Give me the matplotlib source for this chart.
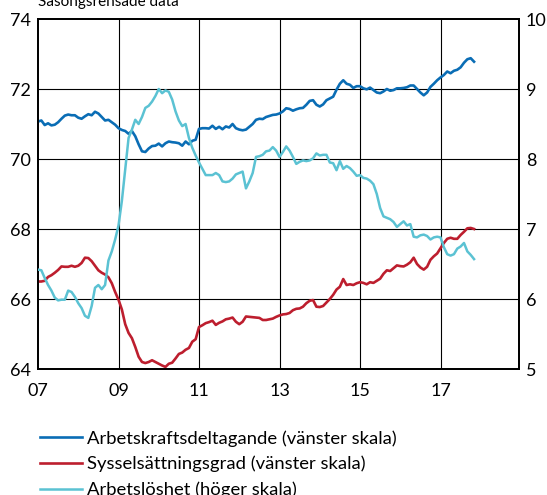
import numpy as np
import matplotlib
matplotlib.use("Agg")
import matplotlib.pyplot as plt

# monthly data, Jan 2007 - Nov 2017
start_year = 2007

arbetskraft = [
    71.07, 71.10, 70.97, 71.02, 70.96, 70.98, 71.05, 71.15, 71.24, 71.27, 71.25, 71.25,
    71.18, 71.15, 71.22, 71.28, 71.25, 71.35, 71.30, 71.20, 71.10, 71.12, 71.05, 70.98,
    70.88, 70.83, 70.80, 70.72, 70.80, 70.65, 70.42, 70.22, 70.20, 70.30, 70.37, 70.38,
    70.44, 70.36, 70.45, 70.50, 70.48, 70.47, 70.45, 70.38, 70.50, 70.42, 70.52, 70.55,
    70.86, 70.88, 70.88, 70.87, 70.95, 70.86, 70.92, 70.85, 70.93, 70.90, 71.00, 70.88,
    70.84, 70.82, 70.84, 70.92, 71.00, 71.12, 71.15, 71.14, 71.20, 71.23, 71.26, 71.27,
    71.30, 71.36, 71.45, 71.43, 71.38, 71.42, 71.45, 71.46, 71.55, 71.66, 71.68, 71.55,
    71.50, 71.56, 71.68, 71.73, 71.78, 71.98, 72.15, 72.25, 72.15, 72.12, 72.03, 72.08,
    72.08, 72.02, 71.99, 72.04, 71.97, 71.90, 71.88, 71.93, 72.00, 71.95, 71.97, 72.02,
    72.02, 72.03, 72.05, 72.10, 72.10, 72.00, 71.90, 71.82, 71.90, 72.06, 72.15, 72.25,
    72.33, 72.40, 72.50, 72.45, 72.52, 72.55, 72.62, 72.75, 72.85, 72.88, 72.78,
]

sysselsattning = [
    66.50, 66.50, 66.52, 66.63, 66.68, 66.75, 66.83, 66.93, 66.92, 66.92, 66.95, 66.92,
    66.95, 67.03, 67.18, 67.17, 67.08, 66.95, 66.82, 66.75, 66.70, 66.62, 66.45, 66.20,
    65.98, 65.70, 65.28, 65.03, 64.88, 64.63, 64.35, 64.20, 64.17, 64.20, 64.25, 64.20,
    64.15, 64.10, 64.06, 64.15, 64.18, 64.30, 64.43, 64.47, 64.55, 64.60, 64.78, 64.85,
    65.20, 65.25, 65.31, 65.34, 65.38, 65.26, 65.32, 65.36, 65.42, 65.44, 65.47, 65.35,
    65.28, 65.35, 65.50, 65.49, 65.48, 65.47, 65.46, 65.40, 65.40, 65.42, 65.44, 65.49,
    65.53, 65.56, 65.57, 65.60, 65.68, 65.72, 65.73, 65.78, 65.88, 65.95, 65.97, 65.78,
    65.77, 65.80, 65.90, 66.00, 66.12, 66.27, 66.35, 66.57, 66.40, 66.42, 66.40, 66.45,
    66.48, 66.46, 66.42, 66.48, 66.46, 66.52, 66.58, 66.72, 66.82, 66.80, 66.88, 66.96,
    66.94, 66.93, 66.98, 67.05, 67.18, 67.00, 66.90, 66.84, 66.92, 67.12, 67.22, 67.30,
    67.45, 67.60, 67.72, 67.75, 67.72, 67.72, 67.83, 67.92, 68.02, 68.03, 68.00,
]

arbetsloshet = [
    6.42, 6.41, 6.30, 6.20, 6.12, 6.02, 5.98, 5.99, 5.99, 6.12, 6.10, 6.03,
    5.94, 5.87, 5.76, 5.73, 5.90, 6.16, 6.20, 6.14, 6.20, 6.55, 6.68, 6.85,
    7.05, 7.40, 7.85, 8.30, 8.42, 8.56, 8.50, 8.60, 8.73, 8.76, 8.82, 8.90,
    9.00, 8.94, 8.98, 8.96, 8.85, 8.68, 8.55, 8.47, 8.50, 8.30, 8.16, 8.05,
    7.95, 7.86, 7.77, 7.77, 7.77, 7.80, 7.77, 7.68, 7.67, 7.68, 7.72, 7.78,
    7.80, 7.82, 7.58, 7.68, 7.80, 8.03, 8.04, 8.06, 8.11, 8.12, 8.17, 8.12,
    8.03, 8.10, 8.18, 8.12, 8.03, 7.93, 7.96, 7.98, 7.97, 7.98, 8.01, 8.08,
    8.05, 8.06, 8.06, 7.95, 7.94, 7.84, 7.97, 7.86, 7.90, 7.87, 7.82, 7.76,
    7.77, 7.73, 7.72, 7.69, 7.64, 7.50, 7.30, 7.18, 7.16, 7.14, 7.10, 7.03,
    7.07, 7.11, 7.05, 7.07, 6.89, 6.88, 6.91, 6.92, 6.90, 6.85, 6.88, 6.89,
    6.88, 6.74, 6.64, 6.62, 6.64, 6.72, 6.75, 6.80, 6.68, 6.63, 6.57,
]

year_ticks = [2007, 2009, 2011, 2013, 2015, 2017]
year_labels = ["07", "09", "11", "13", "15", "17"]

labels = [
    "Arbetskraftsdeltagande (vänster skala)",
    "Sysselsättningsgrad (vänster skala)",
    "Arbetslöshet (höger skala)",
]

# styling
blue = "#0A6DB5"
red = "#BD1E2E"
cyan = "#5BC2D3"
plt.rcParams["font.family"] = ["Lato", "DejaVu Sans"]
fs = 13

t = start_year + np.arange(len(arbetskraft)) / 12

fig = plt.figure(figsize=(5.47, 4.95), dpi=100)
ax = fig.add_axes([38 / 547, 1 - 369 / 495, 481 / 547, 350 / 495])
ax2 = ax.twinx()

l1, = ax.plot(t, arbetskraft, color=blue, lw=1.9, zorder=3)
l2, = ax.plot(t, sysselsattning, color=red, lw=1.9, zorder=3)
l3, = ax2.plot(t, arbetsloshet, color=cyan, lw=1.8, zorder=3)

ax.set_xlim(2007, 2018.95)
ax.set_ylim(64, 74)
ax2.set_ylim(5, 10)
ax.set_yticks(range(64, 75, 2))
ax2.set_yticks(range(5, 11))
ax.set_xticks(year_ticks)
ax.set_xticklabels(year_labels)

# grid
for yv in range(66, 74, 2):
    ax.axhline(yv, color="black", lw=0.8, zorder=1)
for xv in year_ticks[1:]:
    ax.axvline(xv, color="black", lw=0.8, zorder=1)

ax.tick_params(axis="both", length=0, labelsize=fs, colors="black")
ax.tick_params(axis="y", pad=5)
ax.tick_params(axis="x", pad=10)
ax2.tick_params(axis="y", length=0, labelsize=fs, pad=5)
for a in (ax, ax2):
    for s in a.spines.values():
        s.set_linewidth(1.3)
        s.set_color("black")

fig.text(38 / 547, 1 - 6 / 495, "Säsongsrensade data", fontsize=11, va="baseline", ha="left")

fig.legend(
    [l1, l2, l3], labels,
    loc="upper left", bbox_to_anchor=(40 / 547, 1 - 430 / 495),
    frameon=False, fontsize=13.3, handlelength=2.25, handletextpad=0.3,
    labelspacing=0.5, borderpad=0, borderaxespad=0,
)

plt.savefig("out.png", dpi=100)
